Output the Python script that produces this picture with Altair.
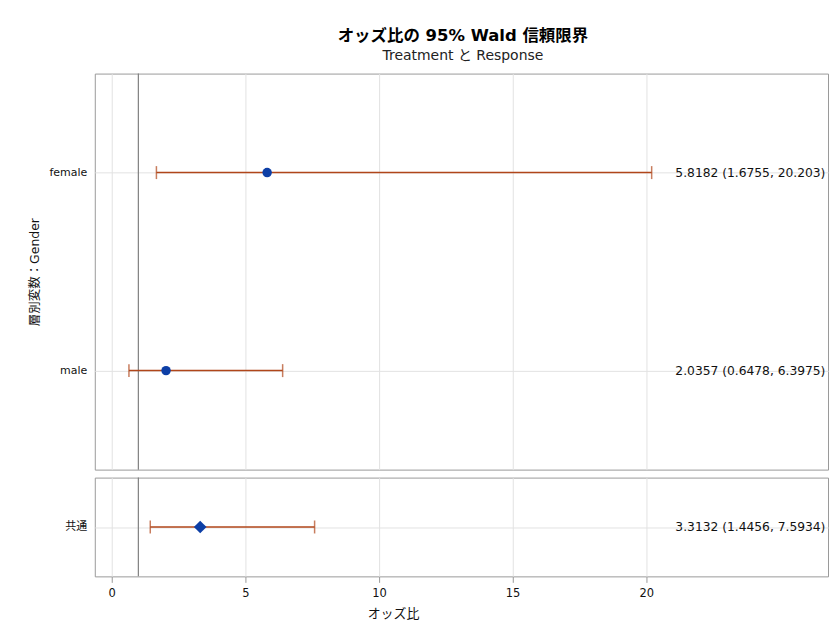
import altair as alt
import pandas as pd

# ---- data ----
strata = ["female", "male"]
strata_est = [5.8182, 2.0357]
strata_lower = [1.6755, 0.6478]
strata_upper = [20.203, 6.3975]

common_cat = ["共通"]
common_est = [3.3132]
common_lower = [1.4456]
common_upper = [7.5934]

x_ticks = [0, 5, 10, 15, 20]
ref_value = [1]

FONT = "DejaVu Sans, Noto Sans CJK JP"
ERR = "#B0461A"
MARK = "#0D3FA6"
GRID = "#E2E2E2"
XDOM = [-0.63, 26.8]
W = 735


def make_df(cats, e, lo, hi):
    return pd.DataFrame({
        "cat": cats, "est": e, "lo": lo, "hi": hi,
        "label": [f"{a} ({b}, {c})" for a, b, c in zip(e, lo, hi)],
    })


def panel(df, height, shape, msize, bottom, ytitle):
    xaxis = (alt.Axis(values=x_ticks, grid=True, gridColor=GRID, domain=False,
                      tickColor="#9a9a9a", tickSize=6, labelFontSize=11.5,
                      labelPadding=5, title="オッズ比", titleFontSize=13,
                      titleFontWeight="normal", titlePadding=9, titleX=299,
                      titleAnchor="middle", labelFont=FONT, titleFont=FONT)
             if bottom else
             alt.Axis(values=x_ticks, grid=True, gridColor=GRID, domain=False,
                      labels=False, ticks=False, title=None))
    xs = alt.Scale(domain=XDOM, nice=False, zero=False)
    yaxis = alt.Axis(grid=True, gridColor=GRID, domain=False, ticks=False,
                     labelPadding=8, labelFontSize=11, labelFont=FONT,
                     title=ytitle, titleFont=FONT, titleFontSize=12.5,
                     titleFontWeight="normal", titlePadding=8)
    ys = alt.Scale(type="point", padding=0.5, domain=list(df["cat"]))
    y = alt.Y("cat:N", scale=ys, axis=yaxis)

    base = alt.Chart(df)
    ref = alt.Chart(pd.DataFrame({"v": ref_value})).mark_rule(
        color="#808080", strokeWidth=1.2).encode(x=alt.X("v:Q", scale=xs, axis=xaxis))
    bars = base.mark_rule(color=ERR, strokeWidth=1.5).encode(
        x=alt.X("lo:Q", scale=xs, axis=xaxis), x2="hi:Q", y=y)
    cap_lo = base.mark_tick(color=ERR, thickness=1.5, size=13).encode(
        x=alt.X("lo:Q", scale=xs), y=y)
    cap_hi = base.mark_tick(color=ERR, thickness=1.5, size=13).encode(
        x=alt.X("hi:Q", scale=xs), y=y)
    pts = base.mark_point(shape=shape, filled=True, opacity=1, size=msize,
                          color=MARK).encode(x=alt.X("est:Q", scale=xs), y=y)
    txt = base.mark_text(align="left", baseline="middle", fontSize=12.3,
                         font=FONT, color="#111111").encode(
        x=alt.value(582), y=y, text="label:N")
    return alt.layer(ref, bars, cap_lo, cap_hi, pts, txt).properties(
        width=W, height=height)


top = panel(make_df(strata, strata_est, strata_lower, strata_upper),
            397, "circle", 90, False, "層別変数：Gender")
bottom = panel(make_df(common_cat, common_est, common_lower, common_upper),
               99, "diamond", 160, True, "")

chart = alt.vconcat(top, bottom, spacing=4).properties(
    title=alt.TitleParams(
        text="オッズ比の 95% Wald 信頼限界",
        subtitle="Treatment と Response",
        anchor="middle", dx=35, font=FONT, fontSize=16.5, fontWeight="bold",
        subtitleFont=FONT, subtitleFontSize=14, subtitleColor="#222222",
        offset=10, subtitlePadding=4),
    padding={"left": 19, "top": 19, "right": 0, "bottom": 2},
    background="white",
).configure_view(stroke="#9a9a9a", strokeWidth=1).configure_axis(
    labelColor="#111111", titleColor="#111111")

chart.save("out.html", embed_options={"renderer": "svg", "actions": False})
